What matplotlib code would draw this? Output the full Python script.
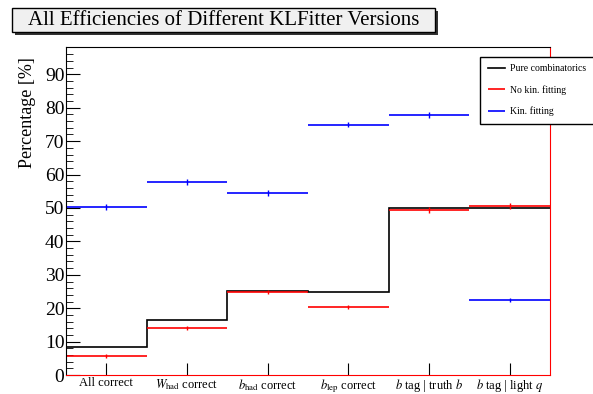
import numpy as np
import matplotlib.pyplot as plt

plt.rcParams['font.family'] = ['Liberation Serif', 'DejaVu Serif']
plt.rcParams['mathtext.fontset'] = 'stix'

categories = [r"All correct", r"$W_{\rm had}$ correct", r"$b_{\rm had}$ correct",
              r"$b_{\rm lep}$ correct", r"$b$ tag | truth $b$", r"$b$ tag | light $q$"]
pure = [8.4, 16.5, 25.1, 25.0, 50.0, 50.0]
nokin = [5.7, 14.1, 25.0, 20.4, 49.4, 50.6]
kin = [50.3, 57.8, 54.5, 74.9, 77.8, 22.4]
err_nokin = [0.6, 0.6, 0.6, 0.6, 0.8, 0.8]
err_kin = [0.8, 0.8, 0.8, 0.8, 0.9, 0.6]

fig = plt.figure(figsize=(5.93, 3.94), dpi=100)
ax = fig.add_axes([0.111, 0.048, 0.8165, 0.833])

n = len(categories)
edges = np.arange(n + 1)
centers = edges[:-1] + 0.5

ax.stairs(pure, edges, baseline=None, color='black', lw=1.2, label='Pure combinatorics')
ax.hlines(nokin, edges[:-1], edges[1:], color='red', lw=1.2, label='No kin. fitting')
ax.errorbar(centers, nokin, yerr=err_nokin, fmt='none', ecolor='red', lw=1)
ax.hlines(kin, edges[:-1], edges[1:], color='blue', lw=1.2, label='Kin. fitting')
ax.errorbar(centers, kin, yerr=err_kin, fmt='none', ecolor='blue', lw=1)

ax.set_xlim(0, n)
ax.set_ylim(0, 98.2)
ax.set_xticks(centers)
ax.set_xticklabels(categories, fontsize=9)
ax.set_yticks(np.arange(0, 91, 10))
ax.set_yticks(np.arange(0, 98, 2), minor=True)
ax.tick_params(axis='y', which='major', direction='in', length=10, labelsize=14, pad=1)
ax.tick_params(axis='y', which='minor', direction='in', length=5)
ax.tick_params(axis='x', direction='in', length=9, pad=1.5)
ax.set_ylabel('Percentage [%]', fontsize=13)
ax.yaxis.set_label_coords(-0.062, 0.80)
ax.spines['right'].set_color('red')
ax.spines['bottom'].set_color('red')

leg = ax.legend(loc='upper left', bbox_to_anchor=(0.845, 0.985), fontsize=7,
                frameon=True, fancybox=False, edgecolor='black', framealpha=1,
                handlelength=1.8, handletextpad=0.5, borderpad=0.8, labelspacing=1.2)
leg.get_frame().set_linewidth(1)

# title box with shadow
fig.patches.append(plt.Rectangle((0.025, 0.911), 0.713, 0.061, transform=fig.transFigure,
                                 facecolor='#333333', edgecolor='none'))
fig.patches.append(plt.Rectangle((0.020, 0.919), 0.713, 0.061, transform=fig.transFigure,
                                 facecolor='#f0f0f0', edgecolor='black', lw=1))
fig.text(0.378, 0.949, 'All Efficiencies of Different KLFitter Versions',
         ha='center', va='center', fontsize=15)

fig.savefig('out.png', dpi=100)
